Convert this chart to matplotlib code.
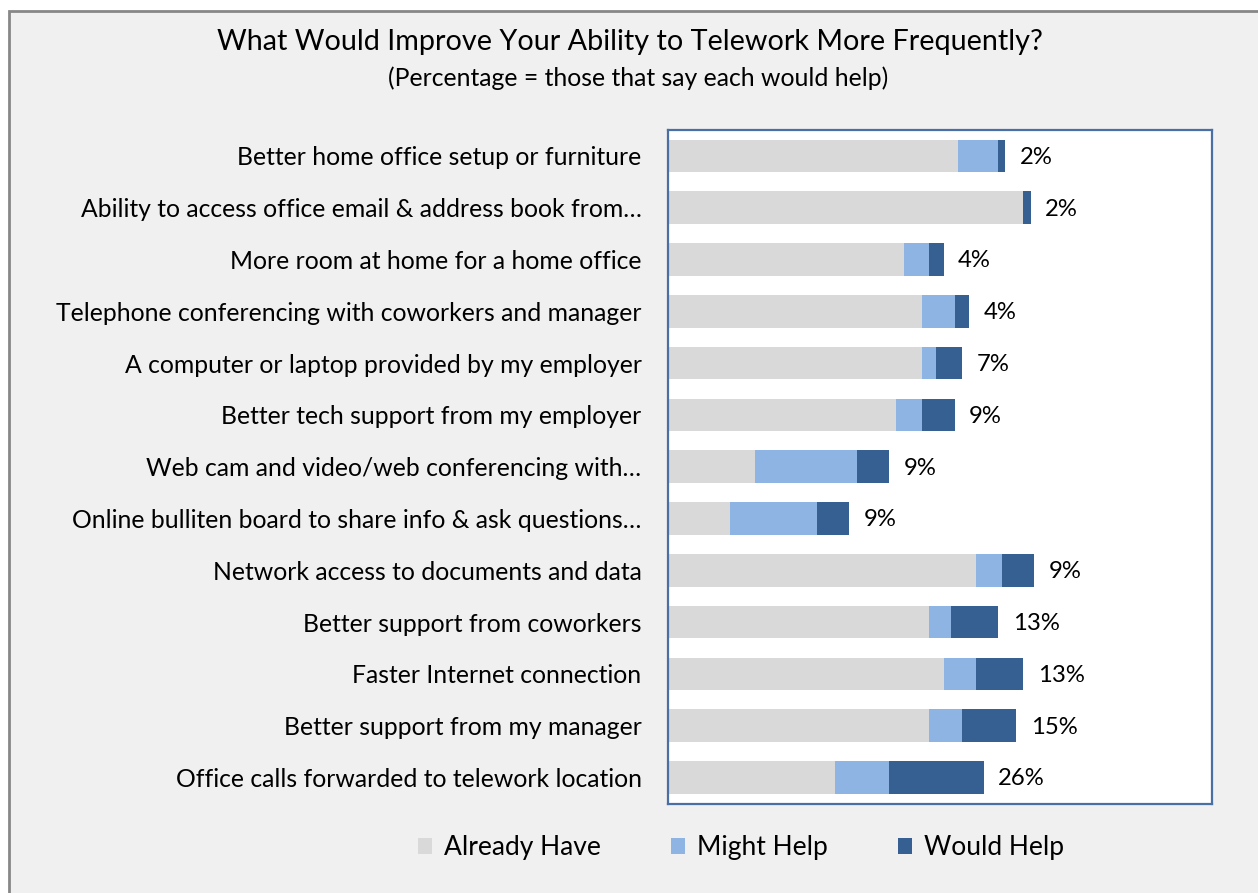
import matplotlib
matplotlib.use("Agg")
import matplotlib.pyplot as plt
from matplotlib.patches import Rectangle, Patch

# Survey items, top to bottom
items = [
    "Better home office setup or furniture",
    "Ability to access office email & address book from…",
    "More room at home for a home office",
    "Telephone conferencing with coworkers and manager",
    "A computer or laptop provided by my employer",
    "Better tech support from my employer",
    "Web cam and video/web conferencing with…",
    "Online bulliten board to share info & ask questions…",
    "Network access to documents and data",
    "Better support from coworkers",
    "Faster Internet connection",
    "Better support from my manager",
    "Office calls forwarded to telework location",
]
already_have = [80, 98, 65, 70, 70, 63, 24, 17, 85, 72, 76, 72, 46]
might_help = [11, 0, 7, 9, 4, 7, 28, 24, 7, 6, 9, 9, 15]
would_help = [2, 2, 4, 4, 7, 9, 9, 9, 9, 13, 13, 15, 26]

series_names = ["Already Have", "Might Help", "Would Help"]
colors = ["#d9d9d9", "#8eb4e3", "#376092"]

plt.rcParams['font.family'] = ['Lato', 'DejaVu Sans']

W, H = 1258, 893
fig = plt.figure(figsize=(W / 100, H / 100), dpi=100, facecolor="white")

# chart area background with grey border
bg = Rectangle((9 / W, -0.05), 1.1, 1 - 11 / H + 0.05, transform=fig.transFigure,
               facecolor="#f0f0f0", edgecolor="#878787", linewidth=2)
bg.set_zorder(-10)
fig.patches.append(bg)

ax = fig.add_axes([668 / W, 1 - 803.5 / H, (1212 - 668) / W, (803.5 - 130) / H])
ax.set_facecolor("white")

ypos = list(range(len(items)))
left = [0] * len(items)
for vals, name, col in zip([already_have, might_help, would_help], series_names, colors):
    ax.barh(ypos, vals, left=left, height=0.63, color=col, label=name, zorder=2)
    left = [l + v for l, v in zip(left, vals)]

# label the "would help" share at the end of each bar
for y, total, wh in zip(ypos, left, would_help):
    ax.annotate(f"{wh}%", (total, y), xytext=(10.5, -1), textcoords="offset points",
                va="center", ha="left", fontsize=17.2, color="black")

ax.set_xlim(0, 150)
ax.set_ylim(len(items) - 0.5, -0.5)
ax.set_yticks(ypos)
ax.set_yticklabels(items, fontsize=17.8)
ax.tick_params(axis="y", length=0, pad=19)
ax.set_xticks([])
for s in ax.spines.values():
    s.set_color("#4a6fa5")
    s.set_linewidth(1.6)

fig.text(630 / W, 1 - 42 / H, "What Would Improve Your Ability to Telework More Frequently?",
         ha="center", va="center", fontsize=20.7)
fig.text(638 / W, 1 - 78 / H, "(Percentage = those that say each would help)",
         ha="center", va="center", fontsize=17.85)

handles = [Patch(facecolor=c, edgecolor="none") for c in colors]
fig.legend(handles, series_names, loc="center", bbox_to_anchor=(741 / W, 1 - 848 / H),
           ncol=3, frameon=False, fontsize=19, handlelength=0.55, handleheight=0.55,
           handletextpad=0.45, columnspacing=2.65)

fig.savefig("out.png", dpi=100, facecolor=fig.get_facecolor())
